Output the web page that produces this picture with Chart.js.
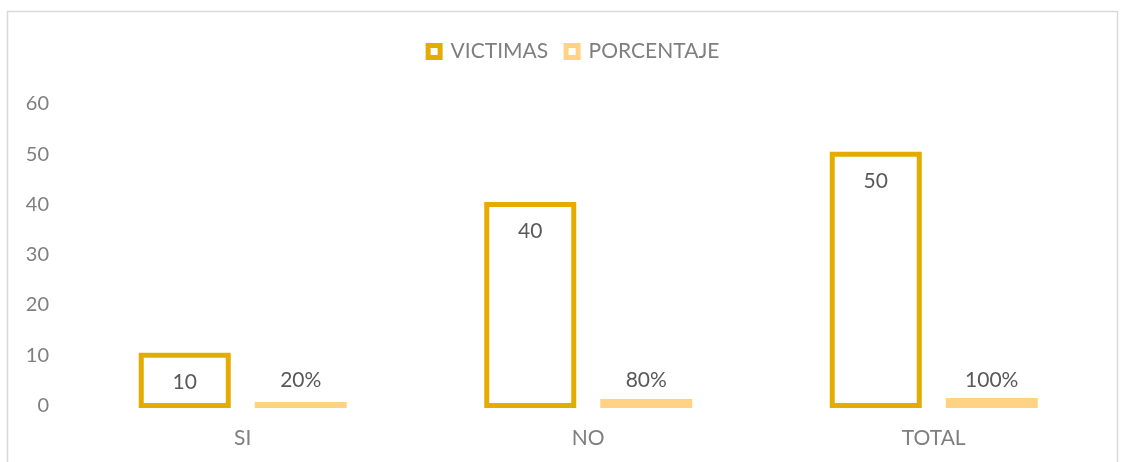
<!DOCTYPE html>
<html>
<head>
<meta charset="utf-8">
<script src="https://cdn.jsdelivr.net/npm/chart.js@4"></script>
<style>
  html, body { margin: 0; padding: 0; background: #ffffff; }
  #wrap { position: absolute; left: 0; top: 0; width: 1123px; height: 462px; }
</style>
</head>
<body>
<div id="wrap"><canvas id="c" width="1123" height="462"></canvas></div>
<script>
const categories = ['SI', 'NO', 'TOTAL'];
const victimas = [10, 40, 50];
const porcentaje = [0.2, 0.8, 1.0];
const porcentajeLabels = ['20%', '80%', '100%'];
const seriesNames = ['VICTIMAS', 'PORCENTAJE'];
const yTicks = [0, 10, 20, 30, 40, 50, 60];

const GOLD = '#E5AC00';
const LIGHT = '#FFD383';
const FONT = 'Lato, "Open Sans", sans-serif';

const framePlugin = {
  id: 'frame',
  afterInit(chart) {
    const lg = chart.legend;
    if (lg && !lg._patched) {
      const orig = lg.fit;
      lg.fit = function () { orig.call(this); this.height += 32; };
      lg._patched = true;
    }
  },
  afterLayout(chart) {
    const lg = chart.legend;
    if (lg) { lg.left += 17; lg.right += 17; }
  },
  beforeDraw(chart) {
    const ctx = chart.ctx;
    ctx.save();
    ctx.fillStyle = '#ffffff';
    ctx.fillRect(0, 0, chart.width, chart.height);
    ctx.strokeStyle = '#d9d9d9';
    ctx.lineWidth = 1.5;
    ctx.strokeRect(7.5, 11.5, 1110, 470);
    ctx.restore();
  }
};

const centeredBorderPlugin = {
  id: 'centeredBorder',
  afterDatasetsDraw(chart) {
    const ctx = chart.ctx;
    ctx.save();
    ctx.lineWidth = 5;
    ctx.lineJoin = 'miter';
    chart.data.datasets.forEach((ds, di) => {
      const meta = chart.getDatasetMeta(di);
      ctx.strokeStyle = ds._stroke;
      meta.data.forEach((el) => {
        const x = el.x - el.width / 2;
        ctx.strokeRect(x, el.y, el.width, el.base - el.y);
      });
    });
    ctx.restore();
  }
};

const labelPlugin = {
  id: 'valueLabels',
  afterDatasetsDraw(chart) {
    const ctx = chart.ctx;
    ctx.save();
    ctx.font = '21px ' + FONT;
    ctx.fillStyle = '#595959';
    ctx.textAlign = 'center';
    ctx.textBaseline = 'middle';
    const m0 = chart.getDatasetMeta(0);
    m0.data.forEach((el, i) => {
      ctx.fillText(String(victimas[i]), el.x, el.y + 27);
    });
    const m1 = chart.getDatasetMeta(1);
    m1.data.forEach((el, i) => {
      ctx.fillText(porcentajeLabels[i], el.x, el.base - 25);
    });
    ctx.restore();
  }
};

new Chart(document.getElementById('c'), {
  type: 'bar',
  data: {
    labels: categories,
    datasets: [
      {
        label: seriesNames[0],
        data: victimas,
        backgroundColor: '#ffffff',
        borderWidth: 0,
        _stroke: GOLD,
        barPercentage: 0.75,
        categoryPercentage: 0.6715
      },
      {
        label: seriesNames[1],
        data: porcentaje,
        backgroundColor: LIGHT,
        borderWidth: 0,
        _stroke: LIGHT,
        barPercentage: 0.75,
        categoryPercentage: 0.6715
      }
    ]
  },
  options: {
    responsive: false,
    animation: false,
    devicePixelRatio: 1,
    layout: { padding: { left: 7, right: 16.5, top: 23, bottom: 0 } },
    plugins: {
      tooltip: { enabled: false },
      legend: {
        position: 'top',
        align: 'center',
        labels: {
          font: { family: FONT, size: 21 },
          color: '#7f7f7f',
          boxWidth: 12,
          boxHeight: 12,
          padding: 18,
          generateLabels(chart) {
            return chart.data.datasets.map((ds, i) => ({
              text: ds.label,
              fillStyle: '#ffffff',
              strokeStyle: ds._stroke,
              lineWidth: 5,
              hidden: false,
              datasetIndex: i,
              fontColor: '#7f7f7f'
            }));
          }
        }
      }
    },
    scales: {
      x: {
        grid: { display: false, drawTicks: false },
        border: { display: false },
        ticks: { font: { family: FONT, size: 21 }, color: '#7f7f7f', padding: 20 },
        afterFit(scale) { scale.height = 56.5; }
      },
      y: {
        min: 0,
        max: 60,
        grid: { display: false, drawTicks: false },
        border: { display: false },
        afterBuildTicks(scale) { scale.ticks = yTicks.map(v => ({ value: v })); },
        ticks: { font: { family: FONT, size: 20 }, color: '#7f7f7f', padding: 21 },
        afterFit(scale) { scale.width = 63; }
      }
    }
  },
  plugins: [framePlugin, centeredBorderPlugin, labelPlugin]
});
</script>
</body>
</html>
